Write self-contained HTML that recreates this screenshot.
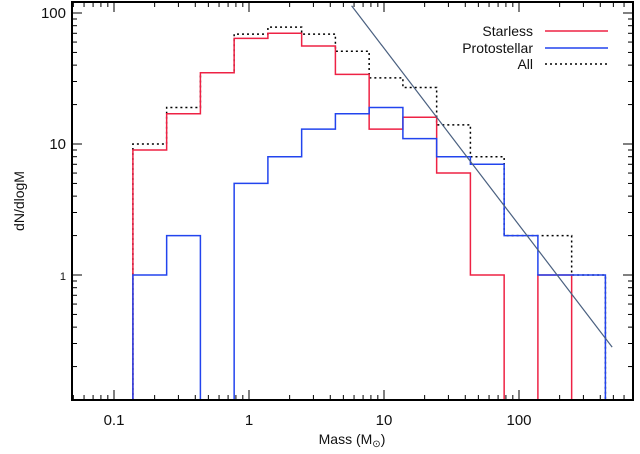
<!DOCTYPE html>
<html><head><meta charset="utf-8"><style>
html,body{margin:0;padding:0;background:#fff;width:640px;height:454px;overflow:hidden}
svg text{font-family:"Liberation Sans",sans-serif;fill:#111}
</style></head><body>
<svg id="chart" width="640" height="454">
<g id="ticks"></g>
<g id="series"></g>
<rect x="72" y="2" width="561" height="398" fill="none" stroke="#000" stroke-width="2"/>
<text x="352" y="444" font-size="14" text-anchor="middle">Mass (M<tspan font-size="10" dy="3">⊙</tspan><tspan dy="-3">)</tspan></text>
<text transform="translate(24,201) rotate(-90)" font-size="14" text-anchor="middle">dN/dlogM</text>
<g>
<text x="533" y="36" font-size="14" text-anchor="end">Starless</text>
<line x1="545" y1="31" x2="608" y2="31" stroke="#ee2244" stroke-width="1.5"/>
<text x="533" y="53" font-size="14" text-anchor="end">Protostellar</text>
<line x1="545" y1="48" x2="608" y2="48" stroke="#2244ee" stroke-width="1.5"/>
<text x="533" y="69" font-size="14" text-anchor="end">All</text>
<line x1="545" y1="64" x2="608" y2="64" stroke="#000" stroke-width="1.5" stroke-dasharray="2,3"/>
</g>
</svg>
<script>
const binStartLog = -0.86;
const binWidthLog = 0.25;
const starless = [9,17,35,64,70,56,34,13,16,6,1,0,1,0];
const protostellar = [1,2,0,5,8,13,17,19,11,8,7,2,1,1];
const allCores = [10,19,35,69,78,69,51,32,27,14,8,2,2,1];
const xTickValues = [0.1,1,10,100];
const xTickLabels = ['0.1','1','10','100'];
const yTickValues = [1,10,100];
const yTickLabels = ['1','10','100'];
const slopeFit = -1.35;
const fitAnchorLogM = 0.818;
const fitAnchorLogN = 1.977;
const fitRangeLogM = [0.76, 2.69];

const NS='http://www.w3.org/2000/svg';
const X0=72,X1=633,Y0=2,Y1=400;
function xs(m){return 249+135*Math.log10(m);}
function xl(lg){return 249+135*lg;}
function ys(n){return n<=0?Y1:275-131*Math.log10(n);}
function mk(tag,attrs,parent){const e=document.createElementNS(NS,tag);for(const k in attrs)e.setAttribute(k,attrs[k]);parent.appendChild(e);return e;}
const tg=document.getElementById('ticks');
const sg=document.getElementById('series');
for(let d=-2;d<=2;d++){for(let k=1;k<10;k++){const m=k*Math.pow(10,d);const x=xs(m);if(x<X0||x>X1)continue;const L=k===1?10:5;
const t1=mk('line',{x1:x,y1:Y1,x2:x,y2:Y1-L,stroke:'#000','stroke-width':1},tg);


const t2=mk('line',{x1:x,y1:Y0,x2:x,y2:Y0+L,stroke:'#000','stroke-width':1},tg);

}}
xTickValues.forEach((v,i)=>{const t=mk('text',{x:xs(v),y:425,'font-size':15,'text-anchor':'middle'},tg);t.textContent=xTickLabels[i];

});
for(let d=-1;d<=2;d++){for(let k=1;k<10;k++){const n=k*Math.pow(10,d);const y=ys(n);if(y<Y0||y>Y1)continue;const L=k===1?10:5;
const t1=mk('line',{x1:X0,y1:y,x2:X0+L,y2:y,stroke:'#000','stroke-width':1},tg);


const t2=mk('line',{x1:X1,y1:y,x2:X1-L,y2:y,stroke:'#000','stroke-width':1},tg);

}}
yTickValues.forEach((v,i)=>{const t=mk('text',{x:66,y:ys(v)+5,'font-size':v===1?11:15,'text-anchor':'end'},tg);t.textContent=yTickLabels[i];
if(v===1)t.setAttribute('fill','#888');

});
function hist(vals,color,dash,name){let d='M'+xl(binStartLog)+','+Y1;
vals.forEach((v,i)=>{const xa=xl(binStartLog+i*binWidthLog),xb=xl(binStartLog+(i+1)*binWidthLog);d+=' L'+xa+','+ys(v)+' L'+xb+','+ys(v);});
d+=' L'+xl(binStartLog+vals.length*binWidthLog)+','+Y1;
const p=mk('path',{d:d,fill:'none',stroke:color,'stroke-width':1.5},sg);if(dash)p.setAttribute('stroke-dasharray',dash);

}
hist(allCores,'#000','2,3','all-histogram');
hist(starless,'#ee2244',null,'starless-histogram');
hist(protostellar,'#2244ee',null,'protostellar-histogram');
const fl=mk('line',{x1:xl(fitRangeLogM[0]),y1:ys(Math.pow(10,fitAnchorLogN+slopeFit*(fitRangeLogM[0]-fitAnchorLogM))),x2:xl(fitRangeLogM[1]),y2:ys(Math.pow(10,fitAnchorLogN+slopeFit*(fitRangeLogM[1]-fitAnchorLogM))),stroke:'#4a6080','stroke-width':1.2},sg);


</script>
</body></html>
